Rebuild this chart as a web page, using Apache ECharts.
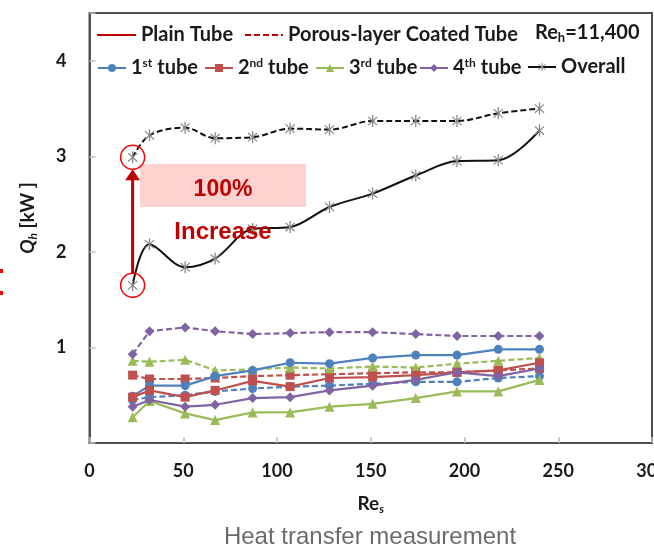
<!DOCTYPE html>
<html><head><meta charset="utf-8">
<script src="https://cdn.jsdelivr.net/npm/echarts@6/dist/echarts.min.js"></script>
<style>html,body{margin:0;padding:0;background:#fff;}#c{width:654px;height:548px;}</style>
</head><body><div id="c"></div>
<script>
// Re_s values (x)
const reS = [23, 32, 51, 67, 87, 107, 128, 151, 174, 196, 218, 240];
// Plain tube (solid lines)
const tube1Plain = [0.49, 0.60, 0.60, 0.70, 0.76, 0.84, 0.83, 0.89, 0.92, 0.92, 0.98, 0.98];
const tube2Plain = [0.48, 0.55, 0.48, 0.55, 0.65, 0.59, 0.68, 0.69, 0.71, 0.74, 0.76, 0.84];
const tube3Plain = [0.27, 0.44, 0.31, 0.24, 0.32, 0.32, 0.38, 0.41, 0.47, 0.54, 0.54, 0.66];
const tube4Plain = [0.38, 0.45, 0.38, 0.40, 0.47, 0.48, 0.55, 0.60, 0.66, 0.74, 0.70, 0.78];
const overallPlain = [1.65, 2.08, 1.84, 1.93, 2.24, 2.26, 2.47, 2.61, 2.80, 2.95, 2.96, 3.27];
// Porous-layer coated tube (dashed lines)
const tube1Porous = [0.45, 0.48, 0.50, 0.54, 0.57, 0.59, 0.60, 0.62, 0.64, 0.64, 0.68, 0.70];
const tube2Porous = [0.71, 0.67, 0.67, 0.68, 0.70, 0.71, 0.72, 0.73, 0.74, 0.74, 0.76, 0.78];
const tube3Porous = [0.86, 0.85, 0.87, 0.76, 0.77, 0.79, 0.78, 0.80, 0.79, 0.83, 0.86, 0.89];
const tube4Porous = [0.93, 1.17, 1.21, 1.17, 1.14, 1.15, 1.16, 1.16, 1.14, 1.12, 1.12, 1.12];
const overallPorous = [2.99, 3.22, 3.30, 3.19, 3.20, 3.29, 3.28, 3.37, 3.37, 3.37, 3.45, 3.50];
// axis ticks
const xTicks = [0, 50, 100, 150, 200, 250, 300];
const yTicks = [1, 2, 3, 4];

const FONT = 'Lato';
const STAR = 'path://M-0.6,-6L0.6,-6L0.6,6L-0.6,6Z M-4.6,-3.8L-3.8,-4.6L4.6,3.8L3.8,4.6Z M-4.6,3.8L3.8,-4.6L4.6,-3.8L-3.8,4.6Z';

function pairs(ys) { return reS.map((x, i) => [x, ys[i]]); }

function tubeSeries(name, color, symbol, size, ys, dashed) {
  return {
    name, type: 'line', data: pairs(ys), symbol, symbolSize: size,
    itemStyle: { color },
    lineStyle: { color, width: 2.2, type: dashed ? [6, 3] : 'solid' },
    emphasis: { disabled: true }, animation: false, z: dashed ? 3 : 4
  };
}
function overallSeries(ys, dashed) {
  return {
    name: 'Overall', type: 'line', data: pairs(ys), symbol: STAR, symbolSize: [10, 12],
    smooth: 0.35,
    itemStyle: { color: '#8a8a8a' },
    lineStyle: { color: '#111', width: 2, type: dashed ? [6, 3] : 'solid' },
    emphasis: { disabled: true }, animation: false, z: 5
  };
}

const C = { b: '#4F81BD', r: '#C0504D', g: '#9BBB59', p: '#8064A2' };
const series = [
  tubeSeries('1st tube', C.b, 'circle', 9, tube1Plain, false),
  tubeSeries('2nd tube', C.r, 'rect', 9, tube2Plain, false),
  tubeSeries('3rd tube', C.g, 'triangle', 10, tube3Plain, false),
  tubeSeries('4th tube', C.p, 'diamond', 10, tube4Plain, false),
  overallSeries(overallPlain, false),
  tubeSeries('1st tube', C.b, 'circle', 9, tube1Porous, true),
  tubeSeries('2nd tube', C.r, 'rect', 9, tube2Porous, true),
  tubeSeries('3rd tube', C.g, 'triangle', 10, tube3Porous, true),
  tubeSeries('4th tube', C.p, 'diamond', 10, tube4Porous, true),
  overallSeries(overallPorous, true),
  { name: 'Plain Tube', type: 'line', data: [], symbol: 'none', itemStyle: { color: '#C00000' }, lineStyle: { color: '#C00000', width: 2.5 } },
  { name: 'Porous-layer Coated Tube', type: 'line', data: [], symbol: 'none', itemStyle: { color: '#C00000' }, lineStyle: { color: '#C00000', width: 2.5, type: [6, 3] } }
];

const TXT = '#1a1a1a';
const legTxt = {
  fontFamily: FONT, fontWeight: 'bold', fontSize: 20, color: TXT,
  rich: {
    n: { fontFamily: FONT, fontWeight: 'bold', fontSize: 20, color: TXT, lineHeight: 22 },
    sup: { fontFamily: FONT, fontWeight: 'bold', fontSize: 12, color: TXT, verticalAlign: 'top', lineHeight: 12 }
  }
};
function legend(name, left, top, w, fmt, hideSym) {
  const l = {
    data: [name], left, top, padding: 0, itemWidth: w, itemHeight: 10, itemGap: 0,
    selectedMode: false, textStyle: legTxt,
    formatter: fmt || (n => '{n|' + n + '}')
  };
  if (hideSym) l.itemStyle = { opacity: 0 };
  return l;
}
function ord(num, suf) { return () => '{n|' + num + '}{sup|' + suf + '}{n| tube}'; }

const option = {
  animation: false,
  backgroundColor: '#fff',
  grid: { left: 89.5, right: 2, top: 13, bottom: 105, show: true, borderColor: '#505050', borderWidth: 2,
    outerBoundsMode: 'none', containLabel: false },
  xAxis: {
    type: 'value', min: 0, max: 300, interval: 50,
    axisLine: { show: true, lineStyle: { color: '#505050', width: 2 } },
    axisTick: { show: true, inside: true, length: 6, lineStyle: { color: '#bdbdbd', width: 1.5 } },
    splitLine: { show: false },
    axisLabel: { margin: 19, fontFamily: FONT, fontWeight: 'bold', fontSize: 18, color: TXT, showMaxLabel: true, hideOverlap: false },
    name: '{a|Re}{s|s}', nameLocation: 'middle', nameGap: 50,
    nameTextStyle: { rich: {
      a: { fontFamily: FONT, fontWeight: 'bold', fontSize: 19, color: TXT, lineHeight: 22 },
      s: { fontFamily: FONT, fontWeight: 'bold', fontStyle: 'italic', fontSize: 12, color: TXT, verticalAlign: 'bottom', lineHeight: 12 }
    } }
  },
  yAxis: {
    type: 'value', min: 0, max: 4.5, interval: 1,
    axisLine: { show: true, lineStyle: { color: '#505050', width: 2 } },
    axisTick: { show: true, inside: true, length: 6, lineStyle: { color: '#bdbdbd', width: 1.5 } },
    splitLine: { show: false },
    axisLabel: { margin: 23, fontFamily: FONT, fontWeight: 'bold', fontSize: 18, color: TXT,
      formatter: v => (yTicks.indexOf(v) >= 0 ? String(v) : '') },
    name: '{q|Q}{h|h}{a| [kW ]}', nameLocation: 'middle', nameGap: 50, nameRotate: 90,
    nameTextStyle: { padding: [0, 0, 0, 20], rich: {
      q: { fontFamily: FONT, fontWeight: 'bold', fontStyle: 'italic', fontSize: 19, color: TXT, lineHeight: 24 },
      h: { fontFamily: FONT, fontWeight: 'bold', fontStyle: 'italic', fontSize: 12, color: TXT, verticalAlign: 'bottom', lineHeight: 13 },
      a: { fontFamily: FONT, fontWeight: 'bold', fontSize: 19, color: TXT, lineHeight: 24 }
    } }
  },
  legend: [
    legend('Plain Tube', 96, 25, 39, null, true),
    legend('Porous-layer Coated Tube', 244, 25, 38, null, true),
    legend('1st tube', 97, 57, 28, ord('1', 'st')),
    legend('2nd tube', 204, 57, 28, ord('2', 'nd')),
    legend('3rd tube', 315, 57, 28, ord('3', 'rd')),
    legend('4th tube', 419, 57, 28, ord('4', 'th')),
    legend('Overall', 527, 57, 28)
  ],
  series
};

const chart = echarts.init(document.getElementById('c'), null, { renderer: 'canvas' });
chart.setOption(option);

const pTop = chart.convertToPixel({ gridIndex: 0 }, [reS[0], overallPorous[0]]);
const pBot = chart.convertToPixel({ gridIndex: 0 }, [reS[0], overallPlain[0]]);
const R = 12;
chart.setOption({
  graphic: [
    { type: 'rect', z: 1, shape: { x: 140, y: 164, width: 166, height: 43 }, style: { fill: '#FFD2D2' } },
    { type: 'text', z: 10, style: { x: 223, y: 190, text: '100%', align: 'center', verticalAlign: 'middle', fill: '#C00000', font: 'bold 23px "Liberation Sans", Arial' } },
    { type: 'text', z: 10, style: { x: 223, y: 232, text: 'Increase', align: 'center', verticalAlign: 'middle', fill: '#C00000', font: 'bold 24px "Liberation Sans", Arial' } },
    { type: 'circle', z: 10, shape: { cx: pTop[0], cy: pTop[1], r: R }, style: { fill: 'none', stroke: '#FF0000', lineWidth: 1.5 } },
    { type: 'circle', z: 10, shape: { cx: pBot[0], cy: pBot[1], r: R }, style: { fill: 'none', stroke: '#FF0000', lineWidth: 1.5 } },
    { type: 'line', z: 10, shape: { x1: pBot[0], y1: pBot[1] - R, x2: pBot[0], y2: pTop[1] + R + 9 }, style: { stroke: '#C00000', lineWidth: 3 } },
    { type: 'polygon', z: 10, shape: { points: [[pTop[0], pTop[1] + R], [pTop[0] - 7.5, pTop[1] + R + 11], [pTop[0] + 7.5, pTop[1] + R + 11]] }, style: { fill: '#C00000' } },
    { type: 'rect', shape: { x: 0, y: 269, width: 3, height: 4 }, style: { fill: '#FF0000' } },
    { type: 'rect', shape: { x: 0, y: 291, width: 3, height: 4 }, style: { fill: '#FF0000' } },
    { type: 'text', z: 10, style: { x: 535, y: 33, text: '{n|Re}{s|h}{n|=11,400}', verticalAlign: 'middle',
      rich: {
        n: { fontFamily: FONT, fontWeight: 'bold', fontSize: 20, fill: TXT, lineHeight: 22 },
        s: { fontFamily: FONT, fontWeight: 'bold', fontSize: 13, fill: TXT, verticalAlign: 'bottom', lineHeight: 13 }
      } } },
    { type: 'text', style: { x: 370, y: 537, text: 'Heat transfer measurement', align: 'center', verticalAlign: 'middle', fill: '#6b6b6b', font: '24px "Liberation Sans", Arial' } }
  ]
});
</script>
</body></html>
